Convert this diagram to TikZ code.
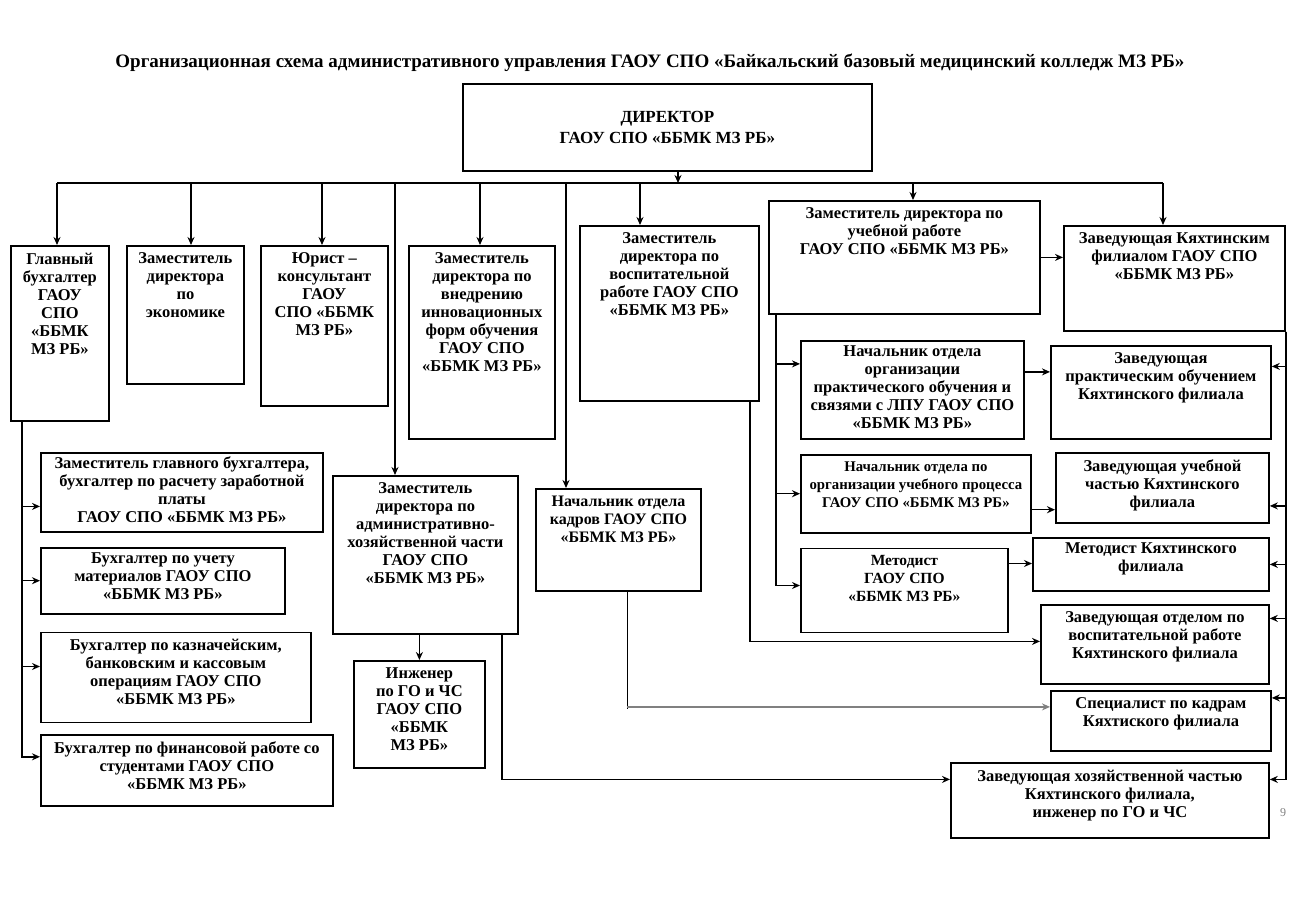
\documentclass[tikz,border=0pt]{standalone}
\usepackage{fontspec}
\setmainfont{Liberation Serif}
\usetikzlibrary{arrows.meta, positioning}

\begin{document}
\begin{tikzpicture}[x=1pt, y=-1pt, >={Stealth[length=8pt,width=7pt]}, line width=1.5pt, node distance=14pt, unit/.style={draw, line width=1.8pt, anchor=north west, inner sep=0pt}, unittext/.style={anchor=north, align=center, inner sep=7pt, font=\bfseries\fontsize{16.5}{18}\selectfont}, unitsmall/.style={unittext, font=\bfseries\fontsize{15.5}{18}\selectfont}]
\useasboundingbox (0,0) rectangle (1300,910);
\node[font=\bfseries\fontsize{19}{22}\selectfont] (T) at (650,63) {Организационная схема административного управления ГАОУ СПО «Байкальский базовый медицинский колледж МЗ РБ»};
\node[unit, minimum width=409pt, minimum height=87pt, align=center, font=\bfseries\fontsize{17}{21}\selectfont] (D) at (462,83) {ДИРЕКТОР\\ГАОУ СПО «ББМК МЗ РБ»};
\node[unit, minimum width=98pt, minimum height=175pt, label={[unittext]north:Главный\\бухгалтер\\ГАОУ\\СПО\\«ББМК\\МЗ РБ»}] (GB) at (10,245) {};
\node[unit, minimum width=117pt, minimum height=138pt, label={[unittext]north:Заместитель\\директора\\по\\экономике}] (ZE) at (126,245) {};
\node[unit, minimum width=127pt, minimum height=160pt, label={[unittext]north:Юрист –\\консультант\\ГАОУ\\СПО «ББМК\\МЗ РБ»}] (JU) at (260,245) {};
\node[unit, minimum width=146pt, minimum height=193pt, label={[unittext]north:Заместитель\\директора по\\внедрению\\инновационных\\форм обучения\\ГАОУ СПО\\«ББМК МЗ РБ»}] (ZI) at (408,245) {};
\node[unit, minimum width=179pt, minimum height=175pt, label={[unittext]north:Заместитель\\директора по\\воспитательной\\работе ГАОУ СПО\\«ББМК МЗ РБ»}] (ZV) at (579,225) {};
\node[unit, minimum width=271pt, minimum height=113pt, label={[unittext]north:Заместитель директора по\\учебной работе\\ГАОУ СПО «ББМК МЗ РБ»}] (ZU) at (768,200) {};
\node[unit, minimum width=221pt, minimum height=105pt, label={[unittext]north:Заведующая Кяхтинским\\филиалом ГАОУ СПО\\«ББМК МЗ РБ»}] (KF) at (1063,225) {};
\node[unit, minimum width=282pt, minimum height=79pt, label={[unittext, inner sep=4pt]north:{Заместитель главного бухгалтера,\\бухгалтер по расчету заработной\\платы\\ГАОУ СПО «ББМК МЗ РБ»}}] (A1) at (40,452) {};
\node[unit, minimum width=244pt, minimum height=66pt, below=of A1.south west, anchor=north west, label={[unittext, inner sep=5pt]north:Бухгалтер по учету\\материалов ГАОУ СПО\\«ББМК МЗ РБ»}] (A2) {};
\node[unit, minimum width=270pt, minimum height=90pt, below=17pt of A2.south west, anchor=north west, label={[unittext]north:{Бухгалтер по казначейским,\\банковским и кассовым\\операциям ГАОУ СПО\\«ББМК МЗ РБ»}}] (A3) {};
\node[unit, minimum width=292pt, minimum height=71pt, below=11pt of A3.south west, anchor=north west, label={[unittext]north:Бухгалтер по финансовой работе со\\студентами ГАОУ СПО\\«ББМК МЗ РБ»}] (A4) {};
\node[unit, minimum width=185pt, minimum height=158pt, label={[unittext]north:Заместитель\\директора по\\административно-\\хозяйственной части\\ГАОУ СПО\\«ББМК МЗ РБ»}] (ZA) at (332,475) {};
\node[unit, minimum width=131pt, minimum height=107pt, label={[unittext]north:Инженер\\по ГО и ЧС\\ГАОУ СПО\\«ББМК\\МЗ РБ»}] (IN) at (353,660) {};
\node[unit, minimum width=165pt, minimum height=102pt, label={[unittext, font=\bfseries\fontsize{16}{18}\selectfont]north:Начальник отдела\\кадров ГАОУ СПО\\«ББМК МЗ РБ»}] (NK) at (535,488) {};
\node[unit, minimum width=223pt, minimum height=98pt, label={[unittext, inner sep=5pt]north:Начальник отдела\\организации\\практического обучения и\\связями с ЛПУ ГАОУ СПО\\«ББМК МЗ РБ»}] (NP) at (800,340) {};
\node[unit, minimum width=230pt, minimum height=78pt, below=of NP.south west, anchor=north west, label={[unitsmall, font=\bfseries\fontsize{14.8}{18}\selectfont]north:Начальник отдела по\\организации учебного процесса\\ГАОУ СПО «ББМК МЗ РБ»}] (NU) {};
\node[unit, minimum width=207pt, minimum height=84pt, below=of NU.south west, anchor=north west, label={[unitsmall]north:Методист\\ГАОУ СПО\\«ББМК МЗ РБ»}] (MT) {};
\node[unit, minimum width=220pt, minimum height=93pt, label={[unittext]north:Заведующая\\практическим обучением\\Кяхтинского филиала}] (KP) at (1050,345) {};
\node[unit, minimum width=213pt, minimum height=70pt, label={[unittext]north:Заведующая учебной\\частью Кяхтинского\\филиала}] (KU) at (1055,452) {};
\node[unit, minimum width=236pt, minimum height=53pt, label={[unittext, inner sep=5pt]north:Методист Кяхтинского\\филиала}] (KM) at (1032,537) {};
\node[unit, minimum width=228pt, minimum height=79pt, label={[unittext]north:Заведующая отделом по\\воспитательной работе\\Кяхтинского филиала}] (ZO) at (1040,604) {};
\node[unit, minimum width=220pt, minimum height=60pt, label={[unittext]north:Специалист по кадрам\\Кяхтиского филиала}] (SK) at (1050,690) {};
\node[unit, minimum width=318pt, minimum height=75pt, label={[unittext]north:{Заведующая хозяйственной частью\\Кяхтинского филиала,\\инженер по ГО и ЧС}}] (ZX) at (950,762) {};
\node[text=gray, font=\fontsize{12}{14}\selectfont] (pg) at (1283,813) {9};
\coordinate (t0) at (678,183);
\coordinate (t1) at (57,183);
\coordinate (t2) at (191,183);
\coordinate (t3) at (322,183);
\coordinate (t4) at (395,183);
\coordinate (t5) at (480,183);
\coordinate (t6) at (566,183);
\coordinate (t7) at (640,183);
\coordinate (t8) at (913,183);
\coordinate (t9) at (1163,183);
\draw[->] (t0 |- D.south) -- (t0);
\draw (t1) -- (t9);
\draw[->] (t1) -- (t1 |- GB.north);
\draw[->] (t2) -- (t2 |- ZE.north);
\draw[->] (t3) -- (t3 |- JU.north);
\draw[->] (t4) -- (t4 |- ZA.north);
\draw[->] (t5) -- (t5 |- ZI.north);
\draw[->] (t6) -- (t6 |- NK.north);
\draw[->] (t7) -- (t7 |- ZV.north);
\draw[->] (t8) -- (t8 |- ZU.north);
\draw[->] (t9) -- (t9 |- KF.north);
\draw[->] (ZU.east) -- (ZU.east -| KF.west);
\coordinate (g) at ([xshift=12pt]GB.south west);
\draw[->] (g) |- ([yshift=-14pt]A1.west);
\draw[->] (g) |- (A2.west);
\draw[->] (g) |- ([yshift=11pt]A3.west);
\draw[->] (g) |- ([yshift=14pt]A4.west);
\draw[->] (ZA.south -| IN.north) -- (IN.north);
\draw[->] ([xshift=-17pt]ZA.south east) |- ([yshift=21pt]ZX.west);
\coordinate (k) at ([xshift=9pt]NK.south);
\coordinate (s) at ([yshift=14pt]SK.west);
\draw (k) -- ([yshift=-2pt]k |- s);
\draw[->, draw=gray, line width=2.4pt] (k |- s) -- (s);
\draw[->] ([xshift=-10pt]ZV.south east) |- ([yshift=3pt]ZO.west);
\coordinate (u) at ([xshift=8pt]ZU.south west);
\draw[->] (u) |- ([yshift=26pt]NP.west);
\draw[->] (u) |- (NU.west);
\draw[->] (u) |- ([yshift=5pt]MT.west);
\draw[->] ([yshift=18pt]NP.east) -- ([yshift=18pt]NP.east -| KP.west);
\draw[->] ([yshift=-16pt]NU.east) -- ([yshift=-16pt]NU.east -| KU.west);
\draw[->] ([yshift=27pt]MT.east) -- ([yshift=27pt]MT.east -| KM.west);
\coordinate (r) at (KF.south east);
\draw[->] (r) |- ([yshift=26pt]KP.east);
\draw[->] (r) |- ([yshift=-18pt]KU.east);
\draw[->] (r) |- (KM.east);
\draw[->] (r) |- ([yshift=26pt]ZO.east);
\draw[->] (r) |- ([yshift=23pt]SK.east);
\draw[->] (r) |- ([yshift=21pt]ZX.east);
\end{tikzpicture}
\end{document}
